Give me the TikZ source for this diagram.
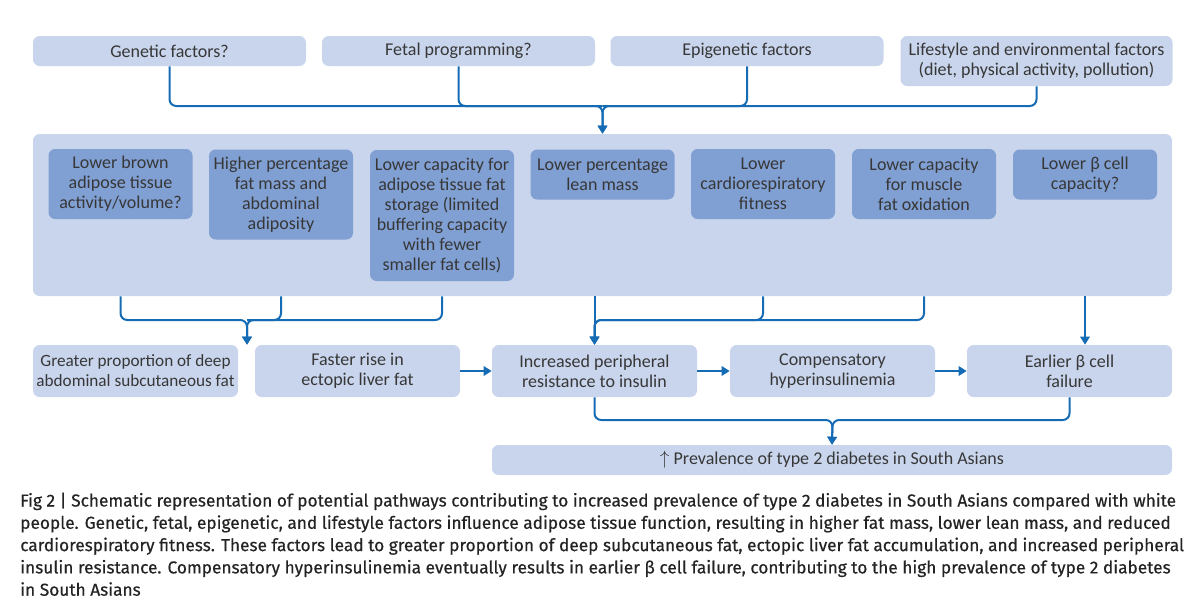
\documentclass[tikz,border=0pt]{standalone}
\usepackage{fontspec}
\setmainfont{Carlito}
\newfontfamily\capfont{Fira Sans}[FakeBold=0.5]
\usetikzlibrary{arrows.meta}
\definecolor{lightbox}{RGB}{201,213,236}
\definecolor{darkbox}{RGB}{128,159,211}
\definecolor{conn}{RGB}{22,108,180}
\definecolor{txt}{RGB}{55,55,55}
\definecolor{captxt}{RGB}{35,35,35}
\begin{document}
\begin{tikzpicture}[x=0.75pt,y=-0.75pt,
  lbox/.style 2 args={fill=lightbox, rounded corners=5pt, minimum width=#1*0.75pt,
    minimum height=#2*0.75pt, inner sep=0pt, align=center, text=txt,
    font=\fontsize{13.5}{15}\selectfont},
  dbox/.style 2 args={lbox={#1}{#2}, fill=darkbox},
  wire/.style={draw=conn, line width=1.5pt, rounded corners=5pt},
  arr/.style={wire, -{Triangle[width=7pt,length=6pt]}},
  capline/.style={anchor=base west, inner sep=0pt, text=captxt,
    font=\capfont\fontsize{12.95}{16}\selectfont}
]
\useasboundingbox (0,0) rectangle (1200,600);

% top factor boxes
\node[lbox={273}{30}] (gen) at (169.5,51) {Genetic factors?};
\node[lbox={273}{30}] (fet) at (458.5,51) {Fetal programming?};
\node[lbox={273}{30}] (epi) at (747,51) {Epigenetic factors};
\node[lbox={272}{50}] (life) at (1036.5,61) {Lifestyle and environmental factors\\(diet, physical activity, pollution)};

% big container
\node[lbox={1139}{162}] (big) at (602.5,215) {};

% inner boxes
\node[dbox={144}{70}]  (b1) at (120.5,184) {Lower brown\\adipose tissue\\activity/volume?};
\node[dbox={144}{90}]  (b2) at (281,194.5) {Higher percentage\\fat mass and\\abdominal\\adiposity};
\node[dbox={144}{131}] (b3) at (442,215.5) {Lower capacity for\\adipose tissue fat\\storage (limited\\buffering capacity\\with fewer\\smaller fat cells)};
\node[dbox={144}{50}]  (b4) at (602.5,174.5) {Lower percentage\\lean mass};
\node[dbox={144}{70}]  (b5) at (763,184) {Lower\\cardiorespiratory\\fitness};
\node[dbox={144}{70}]  (b6) at (924,184) {Lower capacity\\for muscle\\fat oxidation};
\node[dbox={144}{50}]  (b7) at (1085,174.5) {Lower β cell\\capacity?};

% bottom row
\node[lbox={205}{52}, font=\fontsize{12.9}{15}\selectfont] (deep) at (135.5,371) {Greater proportion of deep\\abdominal subcutaneous fat};
\node[lbox={205}{52}] (fast) at (357.5,371) {Faster rise in\\ectopic liver fat};
\node[lbox={205}{52}] (incr) at (594.5,371) {Increased peripheral\\resistance to insulin};
\node[lbox={205}{52}] (comp) at (832.5,371) {Compensatory\\hyperinsulinemia};
\node[lbox={205}{52}] (earl) at (1069.5,371) {Earlier β cell\\failure};
\node[lbox={680}{30}] (prev) at (832,460) {$\uparrow$ Prevalence of type 2 diabetes in South Asians};

% junctions
\coordinate (jt) at (602.5,106);
\coordinate (jl) at (247,320);
\coordinate (jm) at (594.5,320);
\coordinate (jb) at (832.5,420);

% top connectors
\draw[arr] (gen.south) |- (jt) -- (big.north);
\draw[arr] (life.south) |- (jt) -- (big.north);
\draw[wire] (fet.south) |- (jt);
\draw[wire] (epi.south) |- (jt);

% left group
\draw[arr] (b1 |- big.south) |- (jl) -- (jl |- deep.north);
\draw[arr] (b3 |- big.south) |- (jl) -- (jl |- deep.north);
\draw[wire] (b2 |- big.south) |- (jl);

% middle group
\draw[arr] (incr |- big.south) -- (incr.north);
\draw[arr] (b5 |- big.south) |- (jm) -- (incr.north);
\draw[arr] (b6 |- big.south) |- (jm) -- (incr.north);

% right
\draw[arr] (b7 |- big.south) -- (b7 |- earl.north);

% chain
\draw[arr] (fast.east) -- (incr.west);
\draw[arr] (incr.east) -- (comp.west);
\draw[arr] (comp.east) -- (earl.west);

% to prevalence
\draw[arr] (incr.south) |- (jb) -- (prev.north);
\draw[arr] (earl.south) |- (jb) -- (prev.north);

% caption
\node[capline] (cap1) at (20,506.5) {Fig 2 | Schematic representation of potential pathways contributing to increased prevalence of type 2 diabetes in South Asians compared with white};
\node[capline] (cap2) at (20,528.8) {people. Genetic, fetal, epigenetic, and lifestyle factors influence adipose tissue function, resulting in higher fat mass, lower lean mass, and reduced};
\node[capline] (cap3) at (20,551.1) {cardiorespiratory fitness. These factors lead to greater proportion of deep subcutaneous fat, ectopic liver fat accumulation, and increased peripheral};
\node[capline] (cap4) at (20,573.4) {insulin resistance. Compensatory hyperinsulinemia eventually results in earlier β cell failure, contributing to the high prevalence of type 2 diabetes};
\node[capline] (cap5) at (20,595.7) {in South Asians};
\end{tikzpicture}
\end{document}
